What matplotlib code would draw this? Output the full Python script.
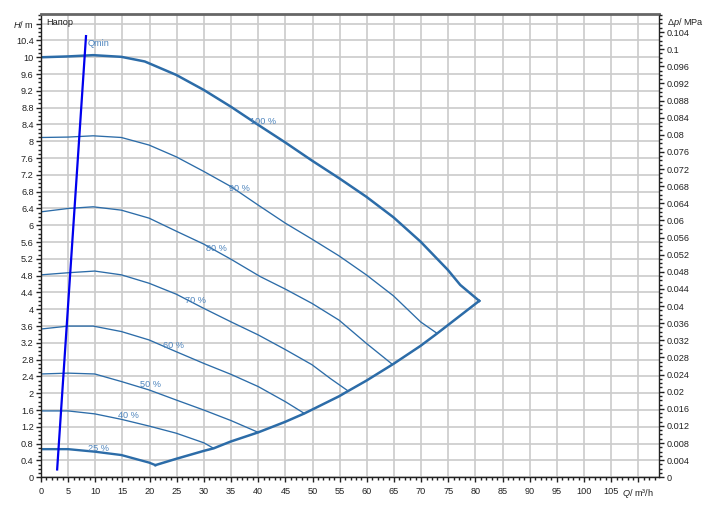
import matplotlib
matplotlib.use('Agg')
import matplotlib.pyplot as plt
import numpy as np
from matplotlib.ticker import MultipleLocator, FixedLocator, FixedFormatter
from matplotlib.transforms import blended_transform_factory

plt.rcParams['font.family'] = ['Liberation Sans', 'DejaVu Sans']
plt.rcParams['mathtext.fontset'] = 'custom'
plt.rcParams['mathtext.it'] = 'Liberation Sans:italic'
plt.rcParams['mathtext.rm'] = 'Liberation Sans'

# ---------------- data (Q in m3/h, H in m) ----------------
Q100 = [0, 5, 9.6, 14.8, 19.1, 24.9, 30.0, 35.0, 40.0, 45.0, 49.9, 54.9, 59.9, 64.9, 69.9, 74.9, 77.2, 80.7]
H100 = [10.0, 10.02, 10.05, 10.01, 9.9, 9.58, 9.22, 8.82, 8.39, 7.97, 7.54, 7.12, 6.68, 6.19, 5.61, 4.94, 4.58, 4.2]

Q90 = [0, 5, 9.6, 14.8, 19.9, 24.9, 30.0, 35.0, 40.0, 45.0, 49.9, 54.9, 59.9, 64.9, 69.9, 72.9]
H90 = [8.09, 8.10, 8.13, 8.09, 7.91, 7.63, 7.28, 6.92, 6.48, 6.05, 5.67, 5.27, 4.82, 4.32, 3.70, 3.43]

Q80 = [0, 5, 9.6, 14.8, 19.9, 24.9, 30.0, 35.0, 40.35, 45.0, 49.9, 54.9, 59.9, 64.6]
H80 = [6.32, 6.40, 6.44, 6.36, 6.17, 5.86, 5.55, 5.19, 4.78, 4.48, 4.14, 3.74, 3.19, 2.70]

Q70 = [0, 5, 9.9, 14.8, 19.9, 24.9, 30.0, 35.0, 40.0, 45.0, 49.9, 53.3, 56.5]
H70 = [4.82, 4.87, 4.91, 4.82, 4.62, 4.36, 4.02, 3.70, 3.39, 3.04, 2.68, 2.35, 2.06]

Q60 = [0, 5, 9.6, 14.8, 19.9, 24.9, 30.0, 35.0, 40.0, 45.0, 48.5]
H60 = [3.53, 3.60, 3.60, 3.47, 3.27, 2.99, 2.71, 2.45, 2.16, 1.80, 1.52]

Q50 = [0, 5, 9.9, 14.8, 19.9, 24.9, 30.0, 35.0, 40.0]
H50 = [2.46, 2.48, 2.46, 2.28, 2.08, 1.84, 1.60, 1.35, 1.07]

Q40 = [0, 5, 9.9, 14.8, 19.9, 24.9, 30.0, 31.8]
H40 = [1.58, 1.58, 1.51, 1.38, 1.22, 1.05, 0.82, 0.69]

Q25 = [0, 5, 9.9, 14.8, 19.9, 21.07]
H25 = [0.67, 0.67, 0.61, 0.53, 0.35, 0.29]

# lower (max-flow) boundary
QB = [21.07, 24.9, 30.0, 31.8, 34.9, 40.0, 44.96, 48.5, 54.9, 56.5, 59.9, 64.9, 69.9, 72.9, 74.9, 80.7]
HB = [0.29, 0.44, 0.63, 0.69, 0.85, 1.07, 1.32, 1.52, 1.93, 2.05, 2.30, 2.70, 3.13, 3.42, 3.62, 4.2]

# Qmin line
QMIN_Q = [2.96, 8.3]
QMIN_H = [0.16, 10.53]

# curve labels (text, Q, H)
LABELS = ["100 %", "90 %", "80 %", "70 %", "60 %", "50 %", "40 %", "25 %"]
LABEL_Q = [38.4, 34.6, 30.3, 26.5, 22.5, 18.3, 14.1, 8.7]
LABEL_H = [8.47, 6.88, 5.45, 4.22, 3.13, 2.21, 1.46, 0.69]

X_TICKS = list(range(0, 115, 5))
Y_TICKS = [round(0.4 * i, 1) for i in range(28)]
P_TICKS = [round(0.004 * i, 3) for i in range(27)]
RHO_G = 0.00981  # MPa per m

X_MAX = 113.8
Y_MAX = 11.03

CURVE = '#2c6ca8'
TXT = '#4d84bd'

fig = plt.figure(figsize=(7.19, 5.15), dpi=100)
ax = fig.add_axes([41 / 719, 1 - 477.3 / 515, (659 - 41) / 719, (477.3 - 14) / 515])
ax.set_xlim(0, X_MAX)
ax.set_ylim(0, Y_MAX)

# grid
ax.xaxis.set_major_locator(FixedLocator(X_TICKS))
ax.yaxis.set_major_locator(FixedLocator(Y_TICKS))
ax.xaxis.set_minor_locator(MultipleLocator(1))
ax.yaxis.set_minor_locator(MultipleLocator(0.1))
ax.grid(True, which='major', color='#cbcbcb', linewidth=1.2)
ax.set_axisbelow(True)

xlabels = [str(v) for v in X_TICKS[:-1]] + ['$\\mathit{Q}$/ m³/h']
ylabels = [f"{v:g}" for v in Y_TICKS[:-1]] + ['$\\mathit{H}$/ m']
ax.xaxis.set_major_formatter(FixedFormatter(xlabels))
ax.yaxis.set_major_formatter(FixedFormatter(ylabels))

ax.tick_params(axis='both', which='major', length=3.8, width=1, labelsize=6.6,
               colors='#222222', pad=1.5)
ax.tick_params(axis='both', which='minor', length=2.5, width=1, colors='#222222')
ax.tick_params(axis='x', which='major', pad=3)

# curves
thin = 0.95
ax.plot(Q90, H90, color=CURVE, lw=thin)
ax.plot(Q80, H80, color=CURVE, lw=thin)
ax.plot(Q70, H70, color=CURVE, lw=thin)
ax.plot(Q60, H60, color=CURVE, lw=thin)
ax.plot(Q50, H50, color=CURVE, lw=thin)
ax.plot(Q40, H40, color=CURVE, lw=thin)
ax.plot(Q25, H25, color=CURVE, lw=1.7)
ax.plot(QB, HB, color=CURVE, lw=1.8, solid_joinstyle='miter')
ax.plot(Q100, H100, color=CURVE, lw=1.8)

ax.plot(QMIN_Q, QMIN_H, color='#0000ee', lw=1.6, solid_capstyle='butt')
ax.text(8.5, 10.33, 'Qmin', color=TXT, fontsize=6.6, va='center', ha='left')

for t, q, h in zip(LABELS, LABEL_Q, LABEL_H):
    ax.text(q, h, t, color=TXT, fontsize=6.6, va='center', ha='left')

ax.text(0.94, 10.82, 'Напор', color='#222222', fontsize=6.6, va='center', ha='left')

# spines
for s in ['left', 'bottom', 'right']:
    ax.spines[s].set_color('#222222')
    ax.spines[s].set_linewidth(1.0)
ax.spines['top'].set_color('#666666')
ax.spines['top'].set_linewidth(2.0)

# right axis (pressure)
ax2 = ax.twinx()
ax2.set_ylim(0, Y_MAX * RHO_G)
ax2.yaxis.set_major_locator(FixedLocator(P_TICKS))
ax2.yaxis.set_minor_locator(MultipleLocator(0.001))
ax2.yaxis.set_major_formatter(FixedFormatter([f"{v:g}" for v in P_TICKS]))
ax2.tick_params(axis='y', which='major', length=3.8, width=1, labelsize=6.6,
                colors='#222222', pad=1.5)
ax2.tick_params(axis='y', which='minor', length=2.5, width=1, colors='#222222')
for s in ax2.spines.values():
    s.set_visible(False)

tr = blended_transform_factory(ax.transAxes, ax.transData)
ax.text(1.0125, 10.83, '$\\mathit{Δp}$/ MPa', transform=tr, fontsize=6.6,
        color='#222222', va='center', ha='left')

fig.savefig('out.png', dpi=100)
